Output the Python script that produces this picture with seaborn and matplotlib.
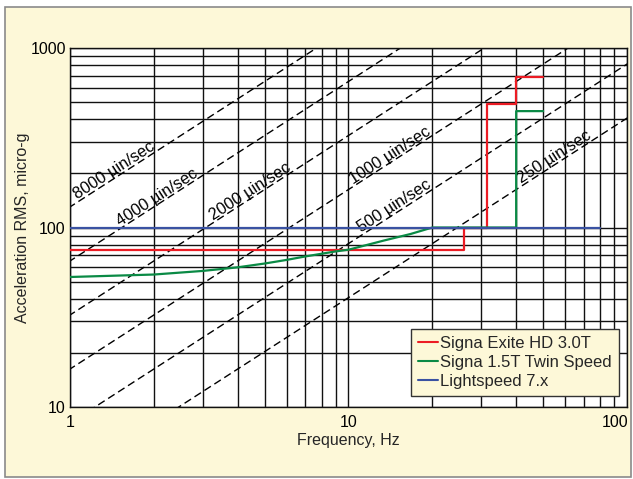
import numpy as np
import matplotlib
matplotlib.use("Agg")
import matplotlib.pyplot as plt
import matplotlib.transforms as mtransforms
import seaborn as sns
from matplotlib.patches import Rectangle
from matplotlib.lines import Line2D
from matplotlib.ticker import LogLocator, NullFormatter

# values
exite_freq = [1, 26, 26, 31.5, 31.5, 40, 40, 50]
exite_acc = [75, 75, 100, 100, 490, 490, 690, 690]

twin_freq = [1, 2, 3, 4, 5, 6, 7, 8, 9, 10, 13.4, 16.7, 20, 40, 40, 50]
twin_acc = [53, 54.7, 57.3, 60, 63, 66, 69, 71.4, 73.6, 75.2, 84.6, 92, 100, 100, 445, 445]

light_freq = [1, 80]
light_acc = [100, 100]

series_names = ["Signa Exite HD 3.0T", "Signa 1.5T Twin Speed", "Lightspeed 7.x"]
series_colors = ["#ec1c24", "#0a8a45", "#3a52a2"]

# constant-velocity reference lines (micro-inch/sec) and where their labels sit
velocities = [8000, 4000, 2000, 1000, 500, 250]
label_freq = [1.48, 2.11, 4.55, 14.5, 15.1, 56.4]

x_ticks = [1, 10, 100]
y_ticks = [10, 100, 1000]

cream = "#fdf8d8"

sns.set_style("white")
plt.rcParams['font.family'] = ['Liberation Sans', 'DejaVu Sans']

fig = plt.figure(figsize=(6.33, 4.79), dpi=100)
fig.patch.set_facecolor("white")
# cream panel with grey border behind everything
fig.patches.append(Rectangle((5 / 633, 2 / 479), 626 / 633, 470 / 479,
                             transform=fig.transFigure, facecolor=cream,
                             edgecolor="#8a8a8a", linewidth=1.2, zorder=-5))

ax = fig.add_axes([70 / 633, 1 - 407 / 479, 557 / 633, 359 / 479])
ax.set_facecolor("white")
ax.set_xscale("log")
ax.set_yscale("log")
ax.set_xlim(1, 100)
ax.set_ylim(10, 1000)

# grid
ax.xaxis.set_minor_locator(LogLocator(base=10, subs=np.arange(2, 10)))
ax.yaxis.set_minor_locator(LogLocator(base=10, subs=np.arange(2, 10)))
ax.xaxis.set_minor_formatter(NullFormatter())
ax.yaxis.set_minor_formatter(NullFormatter())
ax.grid(True, which="both", color="#111111", linewidth=1.0)
ax.set_axisbelow(True)
for sp in ax.spines.values():
    sp.set_color("#111111")
    sp.set_linewidth(1.0)

# velocity lines: a[micro-g] = 2*pi*f*v / 386.09
f_line = np.array([0.5, 200.0])
for v in velocities:
    ax.plot(f_line, 2 * np.pi * f_line * v / 386.09, color="black",
            linewidth=1.0, dashes=(5.5, 3), zorder=1.5)

fig.canvas.draw()
p0 = ax.transData.transform((1, 10))
p1 = ax.transData.transform((10, 100))
angle = np.degrees(np.arctan2(p1[1] - p0[1], p1[0] - p0[0]))
nx, ny = -np.sin(np.radians(angle)), np.cos(np.radians(angle))
for v, fc in zip(velocities, label_freq):
    acc = 2 * np.pi * fc * v / 386.09
    ax.annotate(f"{v} µin/sec", xy=(fc, acc), xytext=(1.5 * nx, 1.5 * ny),
                textcoords="offset points", rotation=angle,
                rotation_mode="anchor", ha="center", va="baseline",
                fontsize=11.8, color="black", zorder=2)

# data series
sns.lineplot(x=exite_freq, y=exite_acc, ax=ax, color=series_colors[0],
             linewidth=1.6, estimator=None, sort=False, zorder=3)
sns.lineplot(x=twin_freq, y=twin_acc, ax=ax, color=series_colors[1],
             linewidth=1.6, estimator=None, sort=False, zorder=4)
sns.lineplot(x=light_freq, y=light_acc, ax=ax, color=series_colors[2],
             linewidth=1.6, estimator=None, sort=False, zorder=5)

ax.set_xticks(x_ticks)
ax.set_xticklabels([str(t) for t in x_ticks])
ax.set_yticks(y_ticks)
ax.set_yticklabels([str(t) for t in y_ticks])
ax.tick_params(which="both", length=0, labelsize=11.5, colors="black")
ax.tick_params(axis="x", pad=6)
ax.tick_params(axis="y", pad=3)
# the last x label sits inside the panel, right-aligned to the axis end
last = ax.get_xticklabels()[-1]
last.set_horizontalalignment("right")
last.set_transform(last.get_transform() + mtransforms.ScaledTranslation(1 / 100, 0, fig.dpi_scale_trans))

ax.set_xlabel("Frequency, Hz", fontsize=11.5, labelpad=2)
ax.set_ylabel("Acceleration RMS, micro-g", fontsize=11.5, labelpad=0)

handles = [Line2D([], [], color=c, linewidth=1.5) for c in series_colors]
leg = ax.legend(handles, series_names, loc="lower right",
                bbox_to_anchor=(0.9856, 0.0306), borderaxespad=0,
                fontsize=12, handlelength=1.2, handletextpad=0.1,
                labelspacing=0.22, borderpad=0.45, fancybox=False,
                framealpha=1, facecolor=cream, edgecolor="#333333")
leg.get_frame().set_linewidth(1.0)
leg.set_zorder(10)

fig.savefig("out.png", dpi=100, facecolor=fig.get_facecolor())
